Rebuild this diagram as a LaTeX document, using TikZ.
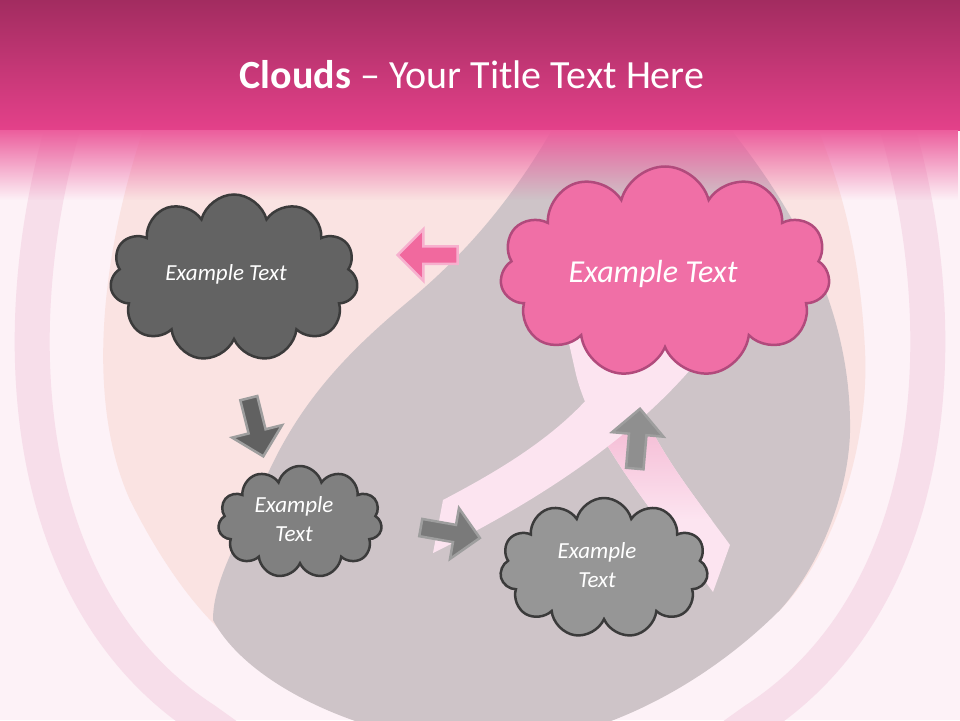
\documentclass[tikz,border=0pt]{standalone}
\usepackage{fontspec}
\setmainfont{Carlito}
\usepackage{tikz}
\usetikzlibrary{
    shapes.symbols,
    shapes.arrows,
    fadings,
    positioning
}
\definecolor{titletop}{HTML}{A22C60}
\definecolor{titlebot}{HTML}{E4418A}
\definecolor{titlefade}{HTML}{EC5E9D}
\definecolor{slidebg}{HTML}{FDF2F7}
\definecolor{ringpink}{HTML}{F7DEEA}
\definecolor{peach}{HTML}{FAE3E2}
\definecolor{dropgray}{HTML}{CEC4C8}
\definecolor{ribbon}{HTML}{FCE4F0}
\definecolor{ribbondark}{HTML}{F4B6D1}
\definecolor{cloudline}{HTML}{3B3B3B}
\definecolor{pinkline}{HTML}{B14A7C}
\definecolor{pinkfill}{HTML}{F06FA6}
\tikzfading[name=fadedown, top color=transparent!0, bottom color=transparent!100]

\begin{document}
\begin{tikzpicture}[
        x=1pt, y=-1pt,
        cloudbox/.style={
            cloud, cloud puffs=11, cloud ignores aspect,
            draw=cloudline, line width=2.5pt, inner sep=0pt
        },
        cloudtext/.style={
            text=white, align=center,
            font=\fontsize{23}{29}\selectfont\itshape
        },
        arrowbox/.style={
            single arrow, inner sep=7.5pt,
            single arrow head extend=17pt,
            minimum height=60pt, line width=2.5pt
        },
        grayarrow/.style={
            arrowbox, fill=#1, draw=black!38
        }
    ]
    \useasboundingbox (0,0) rectangle (960,720);

    % backdrop
    \fill[slidebg] (0,0) rectangle (960,720);
    \draw[ringpink, line width=35pt] (68,110) .. controls (0,330) and (20,600) .. (205,720) .. controls (240,745) .. (260,760);
    \draw[ringpink, line width=35pt] (892,110) .. controls (960,330) and (940,600) .. (755,720) .. controls (720,745) .. (700,760);
    \fill[peach] (150,110) .. controls (100,250) and (85,400) .. (130,500)
        .. controls (160,560) and (190,600) .. (215,625)
        .. controls (300,720) and (660,720) .. (780,610)
        .. controls (830,560) and (870,450) .. (865,350)
        .. controls (860,250) and (840,180) .. (810,110) -- cycle;
    \fill[dropgray] (563,110) .. controls (520,190) and (470,250) .. (410,300)
        .. controls (350,350) and (300,400) .. (265,480)
        .. controls (240,537) and (213,580) .. (213,620)
        .. controls (250,690) and (380,745) .. (490,745)
        .. controls (590,745) and (700,690) .. (780,610)
        .. controls (825,560) and (852,480) .. (850,420)
        .. controls (848,300) and (790,200) .. (715,110) -- cycle;

    % ribbon
    \fill[ribbon] (566,330) -- (575,370) .. controls (590,440) and (660,520) .. (713,592)
        -- (730,545) .. controls (690,490) and (640,430) .. (630,370) -- (622,330) -- cycle;
    \begin{scope}
        \clip (575,370) .. controls (590,440) and (660,520) .. (713,592)
            -- (730,545) .. controls (690,490) and (640,430) .. (630,370) -- cycle;
        \shade[top color=ribbondark, bottom color=ribbon] (560,410) rectangle (740,520);
    \end{scope}
    \fill[ribbon] (433,553) -- (443,500) .. controls (500,470) and (570,430) .. (610,370)
        -- (640,330) -- (720,335) -- (690,370) .. controls (620,450) and (520,510) .. (433,553) -- cycle;

    % title bar
    \shade[top color=titletop, bottom color=titlebot] (0,0) rectangle (960,130);
    \fill[titlefade, path fading=fadedown] (0,130) rectangle (960,200);
    \node[text=white, font=\fontsize{40}{48}\selectfont] (title) at (472,75)
        {\textbf{Clouds} -- Your Title Text Here};

    % clouds
    \node[cloudbox, fill=black!61, minimum width=248pt, minimum height=167pt] (first) at (234,278) {};
    \node[cloudbox, fill=black!50, minimum width=164pt, minimum height=112pt] (second) at (300,522) {};
    \node[cloudbox, fill=black!41, minimum width=208pt, minimum height=140pt] (third) at (604,568) {};
    \node[cloudbox, fill=pinkfill, draw=pinkline, minimum width=330pt, minimum height=211pt] (fourth) at (665,272) {};

    \node[cloudtext] (firsttext) at (226,274) {Example Text};
    \node[cloudtext] (secondtext) at (294,519) {Example\\Text};
    \node[cloudtext] (thirdtext) at (597,565) {Example\\Text};
    \node[cloudtext, font=\fontsize{32}{38}\selectfont\itshape] (fourthtext) at (653,274) {Example Text};

    % arrows
    \node[arrowbox, fill=pinkfill!95!red, draw=pinkfill!55, rotate=180] (back) at (432,255) {};
    \node[grayarrow=black!62, rotate=-76] (down) at (255,423) {};
    \node[grayarrow=black!52, rotate=-10] (right) at (446,532) {};
    \node[grayarrow=black!44, rotate=85] (up) at (637,443) {};

\end{tikzpicture}
\end{document}
